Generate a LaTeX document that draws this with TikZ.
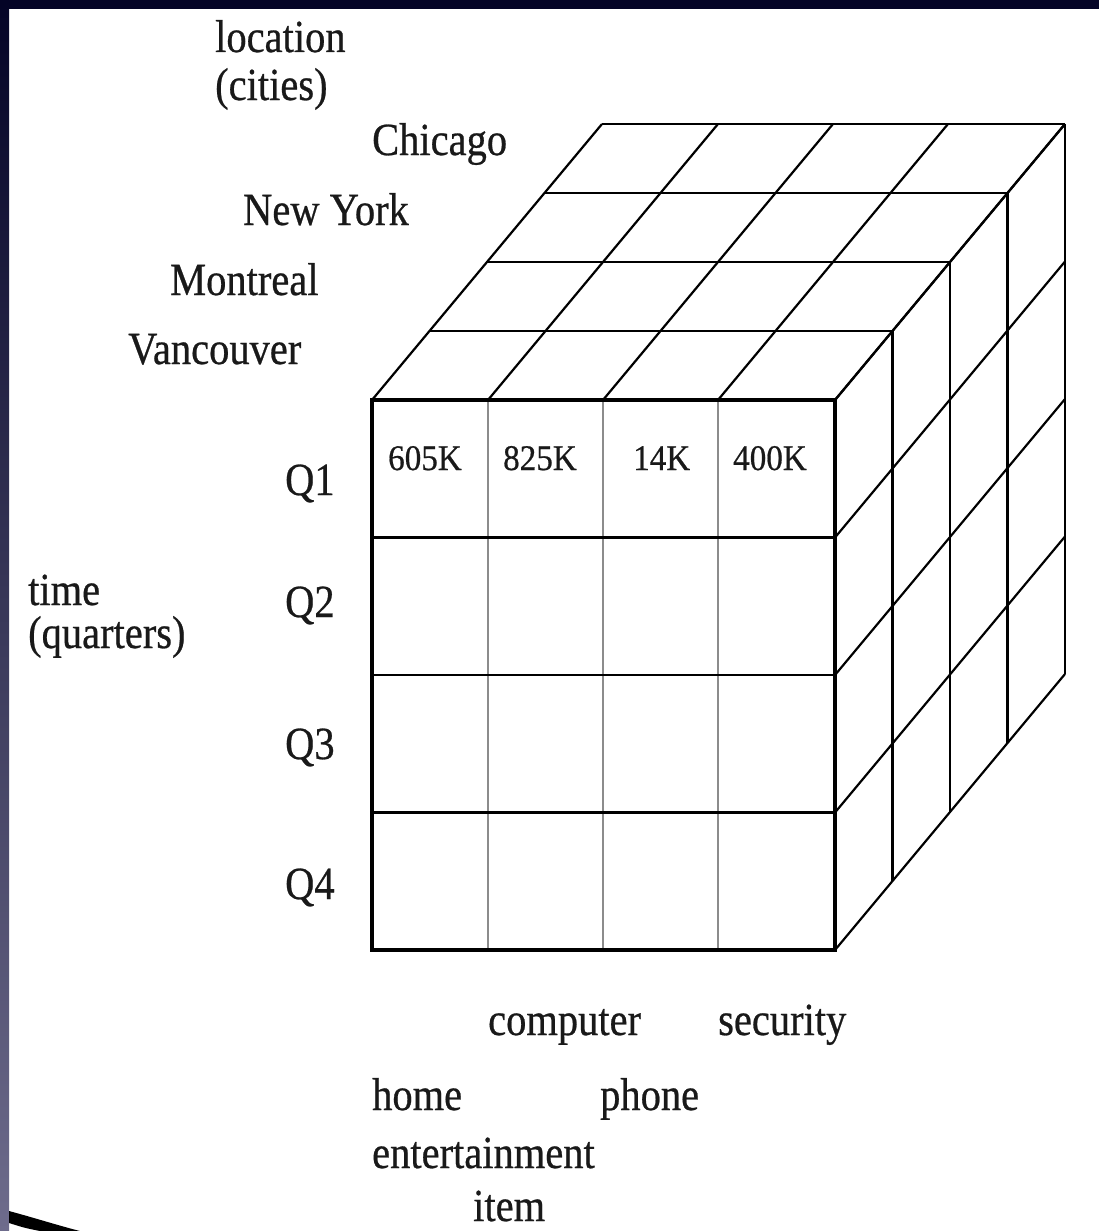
\documentclass[tikz,border=0pt]{standalone}
\usepackage{fontspec}
\setmainfont{Liberation Serif}
\newfontfamily\lblfont[FakeBold=0.6]{Liberation Serif}
\definecolor{navy}{RGB}{4,4,38}
\definecolor{slate}{RGB}{110,108,140}
\begin{document}
\begin{tikzpicture}[x=1pt,y=-1pt,
  lbl/.style={inner sep=0pt,anchor=base west,font=\lblfont\fontsize{46}{50}\selectfont,xscale=0.88,text=black!90},
  val/.style={inner sep=0pt,anchor=base west,font=\lblfont\fontsize{36}{40}\selectfont,xscale=0.92,text=black!90},
  grid/.style={line width=2.2pt,black},
  inner/.style={line width=2.6pt,black!45},
  rowline/.style={line width=2.2pt,black},
  frontbox/.style={line width=4.5pt,black}]
\useasboundingbox (0,0) rectangle (1099,1231);
% slide frame
\fill[white] (0,0) rectangle (1099,1231);
\fill[top color=navy,bottom color=slate] (0,0) rectangle (9,1231);
\fill[navy] (0,0) rectangle (1099,9);
\fill[black] (9,1211) .. controls (35,1218) and (60,1226) .. (80,1231) -- (40,1231) .. controls (25,1228) .. (9,1223) -- cycle;
% top face
\foreach \k in {1,2,3,4}{
  \draw[grid] (372+57.5*\k,400-69*\k) -- (835+57.5*\k,400-69*\k);
  \draw[grid] (835+57.5*\k,400-69*\k) -- (835+57.5*\k,950-69*\k);
}
\foreach \x in {372,488,603,718,835}{
  \draw[grid] (\x,400) -- (\x+230,124);
}
\foreach \y in {400,537.5,675,812.5,950}{
  \draw[grid] (835,\y) -- (1065,\y-276);
}
% front face
\fill[white] (372,400) rectangle (835,950);
\foreach \x in {488,603,718}{
  \draw[inner] (\x,400) -- (\x,950);
}
\foreach \y in {537.5,675,812.5}{
  \draw[rowline] (372,\y) -- (835,\y);
}
\draw[frontbox] (372,400) rectangle (835,950);
% labels
\node[lbl] (loc1) at (215,52) {location};
\node[lbl] (loc2) at (215,100) {(cities)};
\node[lbl] (chi) at (372,155) {Chicago};
\node[lbl] (ny) at (243,225) {New York};
\node[lbl] (mon) at (170,295) {Montreal};
\node[lbl] (van) at (128,364) {Vancouver};
\node[lbl] (q1) at (285,495) {Q1};
\node[lbl] (q2) at (285,617) {Q2};
\node[lbl] (q3) at (285,759) {Q3};
\node[lbl] (q4) at (285,899) {Q4};
\node[lbl] (t1) at (28,605) {time};
\node[lbl] (t2) at (28,648) {(quarters)};
\node[val] (v1) at (388,470) {605K};
\node[val] (v2) at (503,470) {825K};
\node[val] (v3) at (633,470) {14K};
\node[val] (v4) at (733,470) {400K};
\node[lbl] (comp) at (488,1035) {computer};
\node[lbl] (sec) at (718,1035) {security};
\node[lbl] (home) at (372,1110) {home};
\node[lbl] (phone) at (600,1110) {phone};
\node[lbl] (ent) at (372,1168) {entertainment};
\node[lbl] (item) at (473,1221) {item};
\end{tikzpicture}
\end{document}
